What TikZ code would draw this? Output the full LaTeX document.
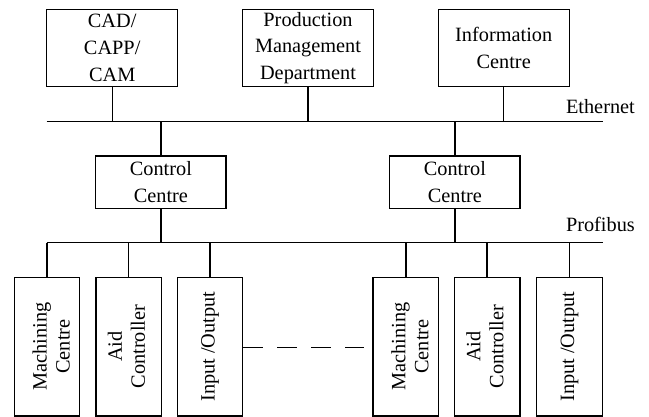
\documentclass[tikz,border=0pt]{standalone}
\usepackage{fontspec}
\setmainfont{Liberation Serif}
\newcommand{\vtxt}[1]{\rotatebox{90}{\begin{tabular}{@{}c@{}}#1\end{tabular}}}
\begin{document}
\begin{tikzpicture}[x=1pt,y=1pt,
  box/.style={draw, line width=1.4pt, inner sep=0pt, align=center, font=\fontsize{20.3}{26.7}\selectfont},
  topbox/.style={box, minimum width=131pt, minimum height=77.4pt},
  ccbox/.style={box, minimum width=130.3pt, minimum height=52.3pt},
  devbox/.style={box, minimum width=65.5pt, minimum height=138.7pt, font=\fontsize{20.3}{23}\selectfont},
  bus/.style={line width=1.4pt},
  link/.style={line width=1.4pt},
  buslabel/.style={anchor=base east, inner sep=0pt, font=\fontsize{20.3}{24}\selectfont}]
\useasboundingbox (0,0) rectangle (649,417);
% top level
\node[topbox] (cad) at (112.2,369) {CAD/\\CAPP/\\CAM};
\node[topbox] (pmd) at (308,369) {Production\\Management\\Department};
\node[topbox] (ic) at (503.7,369) {Information\\Centre};
\coordinate (ethL) at (46.7,295.3);
\coordinate (ethR) at (602.7,295.3);
\draw[bus] (ethL) -- (ethR);
\node[buslabel] (eth) at (635,303.7) {Ethernet};
\foreach \n in {cad,pmd,ic} \draw[link] (\n.south) -- (\n.south |- ethL);
% control centres
\node[ccbox] (cc1) at (160.9,234.85) {Control\\Centre};
\node[ccbox] (cc2) at (454.9,234.85) {Control\\Centre};
\coordinate (profL) at (46.7,174.3);
\coordinate (profR) at (602.7,174.3);
\draw[bus] (profL) -- (profR);
\node[buslabel] (prof) at (635,185.3) {Profibus};
\foreach \n in {cc1,cc2} {
  \draw[link] (\n.north) -- (\n.north |- ethL);
  \draw[link] (\n.south) -- (\n.south |- profL);
}
% devices
\node[devbox] (mc1) at (47,70.35) {\hspace*{13pt}\vtxt{Machining\\Centre}};
\node[devbox] (ac1) at (128.65,70.35) {\vtxt{Aid\\Controller}};
\node[devbox] (io1) at (210,70.35) {\vtxt{Input /Output}};
\node[devbox] (mc2) at (405.8,70.35) {\hspace*{13pt}\vtxt{Machining\\Centre}};
\node[devbox] (ac2) at (487.15,70.35) {\vtxt{Aid\\Controller}};
\node[devbox] (io2) at (569.5,70.35) {\vtxt{Input /Output}};
\foreach \n in {mc1,ac1,io1,mc2,ac2,io2} \draw[link] (\n.north) -- (\n.north |- profL);
\coordinate (dashend) at (364.3,69.7);
\draw[link, dash pattern=on 20pt off 13.9pt] (io1.east |- dashend) -- (dashend);
\end{tikzpicture}
\end{document}
